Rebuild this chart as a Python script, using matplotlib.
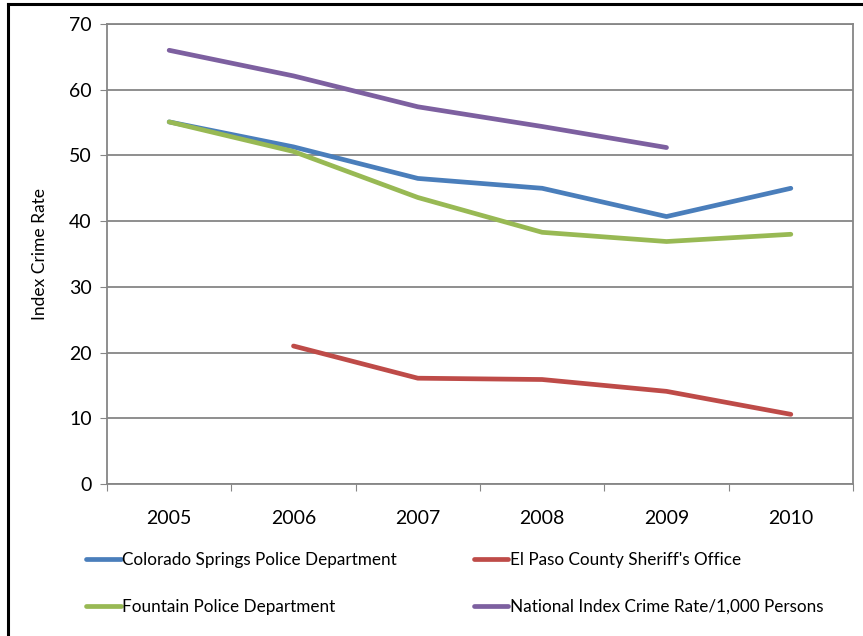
import matplotlib.pyplot as plt
from matplotlib.lines import Line2D

years = ['2005', '2006', '2007', '2008', '2009', '2010']
colorado = [55.1, 51.3, 46.5, 45.0, 40.7, 45.0]
el_paso = [None, 21.0, 16.1, 15.9, 14.1, 10.6]
fountain = [55.1, 50.6, 43.6, 38.3, 36.9, 38.0]
national = [66.0, 62.1, 57.4, 54.4, 51.2, None]

series = [
    ('Colorado Springs Police Department', colorado, '#4A7EBB'),
    ("El Paso County Sheriff's Office", el_paso, '#BE4B48'),
    ('Fountain Police Department', fountain, '#98B954'),
    ('National Index Crime Rate/1,000 Persons', national, '#7D60A0'),
]

plt.rcParams['font.family'] = ['Lato', 'DejaVu Sans']

fig = plt.figure(figsize=(8.63, 6.36), dpi=100)
ax = fig.add_axes([107 / 863, 1 - 484 / 636, 746 / 863, 460 / 636])

handles = []
for name, vals, col in series:
    xs = [i for i, v in enumerate(vals) if v is not None]
    ys = [v for v in vals if v is not None]
    ln, = ax.plot(xs, ys, color=col, lw=3.4, solid_capstyle='round',
                  solid_joinstyle='round', label=name)
    handles.append(ln)

ax.set_ylim(0, 70)
ax.set_yticks(range(0, 71, 10))
ax.set_xlim(-0.5, 5.5)
ax.set_xticks([i - 0.5 for i in range(7)])
ax.set_xticklabels([])
ax.set_xticks(range(6), minor=True)
ax.set_xticklabels(years, minor=True)
ax.tick_params(axis='x', which='minor', length=0, pad=19, labelsize=14)
ax.tick_params(axis='x', which='major', length=5, color='#868686')
ax.tick_params(axis='y', length=5, color='#868686', labelsize=14, pad=6)
ax.grid(axis='y', color='#868686', lw=1.3)
ax.set_axisbelow(True)
for s in ax.spines.values():
    s.set_color('#868686')
    s.set_linewidth(1.3)
ax.set_ylabel('Index Crime Rate', fontsize=12.5, labelpad=15)

# legend fills column-first, so order for rows: Colorado/El Paso, Fountain/National
order = [0, 2, 1, 3]
leg = fig.legend(handles=[handles[i] for i in order], loc='upper left', ncol=2,
                 bbox_to_anchor=(71 / 863, 1 - 537 / 636), frameon=False,
                 fontsize=12.3, handlelength=2.0, handletextpad=0.1,
                 columnspacing=4.5, labelspacing=1.8)

# outer border (left and top)
fig.add_artist(Line2D([8 / 863, 8 / 863], [0, 1 - 4 / 636], color='black', lw=2.2,
                      transform=fig.transFigure))
fig.add_artist(Line2D([8 / 863, 1], [1 - 4 / 636, 1 - 4 / 636], color='black', lw=2.2,
                      transform=fig.transFigure))

fig.savefig('out.png', dpi=100)
